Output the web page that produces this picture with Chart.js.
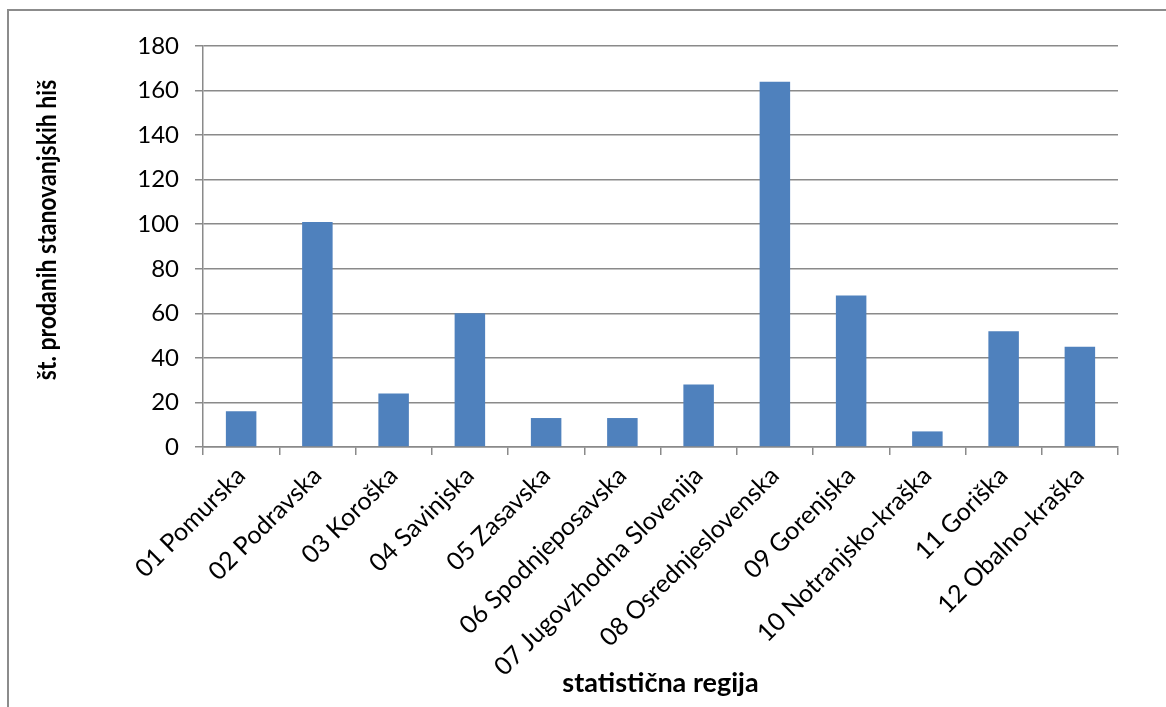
<!DOCTYPE html>
<html lang="sl">
<head>
<meta charset="utf-8">
<title>Prodane stanovanjske hiše po statističnih regijah</title>
<script src="https://cdn.jsdelivr.net/npm/chart.js@4/dist/chart.umd.min.js"></script>
<style>
  html, body { margin: 0; padding: 0; background: #ffffff; overflow: hidden; }
  #wrap { position: relative; width: 1166px; height: 707px; }
  #frame {
    position: absolute; left: 7px; top: 9px; right: -10px; bottom: -10px;
    border-left: 2px solid #8c8c8c; border-top: 2px solid #8c8c8c;
    pointer-events: none;
  }
  canvas { position: absolute; left: 0; top: 0; }
</style>
</head>
<body>
<div id="wrap">
  <canvas id="chart" width="1166" height="707"></canvas>
  <div id="frame"></div>
</div>
<script>
// Statistične regije in število prodanih stanovanjskih hiš
const regions = [
  '01 Pomurska', '02 Podravska', '03 Koroška', '04 Savinjska',
  '05 Zasavska', '06 Spodnjeposavska', '07 Jugovzhodna Slovenija',
  '08 Osrednjeslovenska', '09 Gorenjska', '10 Notranjsko-kraška',
  '11 Goriška', '12 Obalno-kraška'
];
const housesSold = [16, 101, 24, 60, 13, 13, 28, 164, 68, 7, 52, 45];

const yAxisMin = 0;
const yAxisMax = 180;
const yAxisStep = 20;

const yTitleText = 'št. prodanih stanovanjskih hiš';
const xTitleText = 'statistična regija';

const FONT = "Lato, 'Open Sans', sans-serif";
const AXIS_GRAY = '#8a8a8a';

// Rotated y-axis title drawn at a fixed spot left of the ticks,
// slightly widened so the glyphs read as heavy as the other labels
const yTitlePlugin = {
  id: 'yTitle',
  afterDraw(chart, args, opts) {
    const ctx = chart.ctx;
    ctx.save();
    ctx.translate(opts.x, opts.y);
    ctx.scale(opts.widen, 1);
    ctx.rotate(-Math.PI / 2);
    ctx.font = opts.font;
    ctx.fillStyle = opts.color;
    ctx.textAlign = 'center';
    ctx.textBaseline = 'middle';
    ctx.fillText(opts.text, 0, 0);
    ctx.restore();
  }
};

new Chart(document.getElementById('chart'), {
  type: 'bar',
  data: {
    labels: regions,
    datasets: [{
      data: housesSold,
      backgroundColor: '#4f81bd',
      borderWidth: 0,
      categoryPercentage: 1.0,
      barPercentage: 0.4
    }]
  },
  options: {
    responsive: false,
    animation: false,
    devicePixelRatio: 1,
    layout: { padding: { left: 0, right: 48, top: 46, bottom: 0 } },
    plugins: {
      legend: { display: false },
      tooltip: { enabled: false },
      yTitle: {
        text: yTitleText,
        x: 47, y: 230,
        widen: 1.15,
        font: "bold 23px " + FONT,
        color: '#000000'
      }
    },
    scales: {
      x: {
        grid: {
          display: true,
          drawOnChartArea: false,
          drawTicks: true,
          tickLength: 8,
          color: AXIS_GRAY,
          lineWidth: 1.5,
          offset: true
        },
        border: { display: true, color: AXIS_GRAY, width: 1.5 },
        ticks: {
          autoSkip: false,
          maxRotation: 45,
          minRotation: 45,
          padding: 6,
          color: '#000000',
          font: { family: FONT, size: 25 }
        },
        title: {
          display: true,
          text: xTitleText,
          color: '#000000',
          font: { family: FONT, size: 27, weight: 'bold' },
          padding: { top: 0, bottom: 8 }
        },
        afterFit(scale) { scale.height = 260; }
      },
      y: {
        min: yAxisMin,
        max: yAxisMax,
        grid: {
          color: AXIS_GRAY,
          lineWidth: 1.5,
          drawTicks: true,
          tickLength: 8
        },
        border: { display: true, color: AXIS_GRAY, width: 1.5 },
        ticks: {
          stepSize: yAxisStep,
          padding: 16,
          color: '#000000',
          font: { family: FONT, size: 24 }
        },
        afterFit(scale) { scale.width = 203; }
      }
    }
  },
  plugins: [yTitlePlugin]
});
</script>
</body>
</html>
